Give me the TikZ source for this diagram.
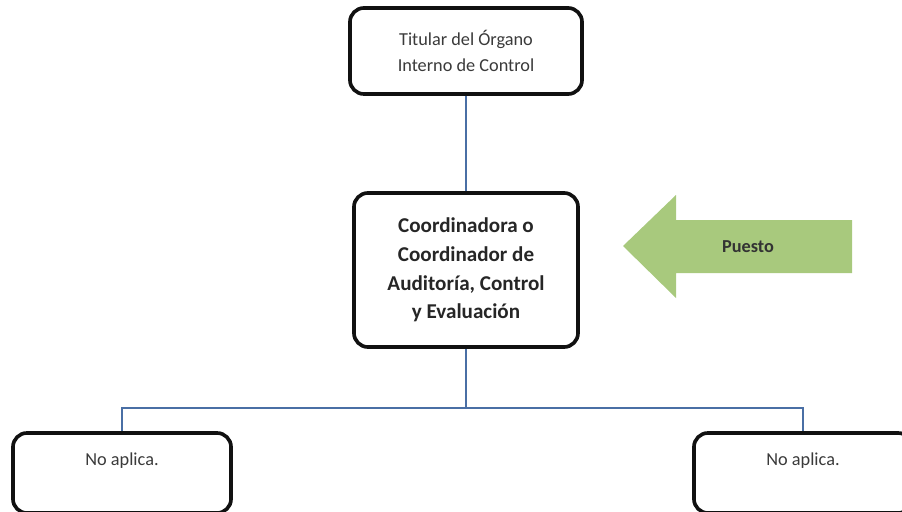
\documentclass[tikz,border=0pt]{standalone}
\usepackage{fontspec}
\setmainfont{Carlito}
\usepackage{tikz}
\usetikzlibrary{positioning,calc}
\definecolor{boxc}{HTML}{111111}
\definecolor{txtc}{HTML}{3A3A3A}
\definecolor{linec}{HTML}{4A6FA5}
\definecolor{arrc}{HTML}{A8C97D}
\tikzset{
  org/.style={draw=boxc,line width=2.6pt,rounded corners=3.5mm,fill=white,align=center,text=txtc,inner sep=0pt},
  topbox/.style={org,minimum width=5.8cm,minimum height=2.15cm,font=\fontsize{13}{18.5}\selectfont},
  midbox/.style={org,minimum width=5.6cm,minimum height=3.85cm,font=\fontsize{15}{20.5}\selectfont\bfseries,text=black!85},
  nabox/.style={org,minimum width=5.45cm,text height=0.8cm,text depth=1.2cm,font=\fontsize{13}{18.5}\selectfont},
  conn/.style={draw=linec,line width=1pt},
  tag/.style={font=\fontsize{13}{16}\selectfont\bfseries,text=black!80},
}

\begin{document}
\begin{tikzpicture}[x=0.025cm,y=-0.025cm]
  \useasboundingbox (0,0) rectangle (902,512);
  \node[topbox] (titular) at (466,51) {Titular del Órgano\\Interno de Control};
  \node[midbox] (coord) at (466,270) {Coordinadora o\\Coordinador de\\Auditoría, Control\\y Evaluación};
  \node[nabox] (noapl) at (122,473) {No aplica.};
  \node[nabox] (noapr) at (803,473) {No aplica.};
  \coordinate (rama) at (466,408);
  \draw[conn] (titular.south) -- (coord.north);
  \draw[conn] (coord.south) -- (rama);
  \draw[conn] (noapl.north) |- (rama) -| (noapr.north);
  \coordinate (punta) at (623,246);
  \fill[arrc] (punta) -- (676,195) -- (676,220) -- (852,220) -- (852,273) -- (676,273) -- (676,298) -- cycle;
  \node[tag] (puesto) at (748,247) {Puesto};
\end{tikzpicture}
\end{document}
